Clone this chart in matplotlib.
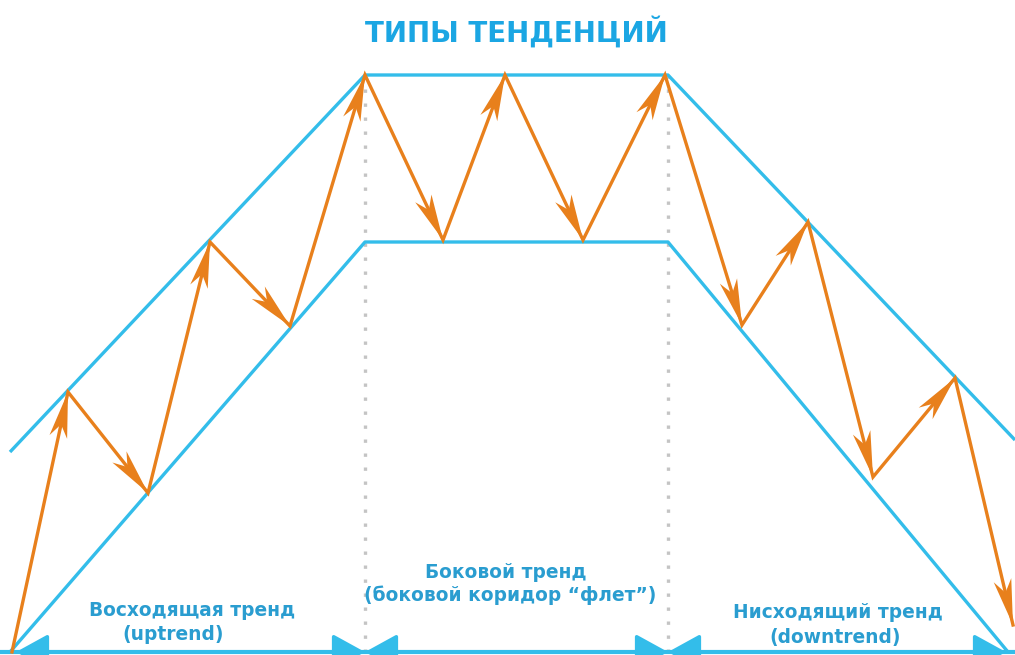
import numpy as np
import matplotlib
matplotlib.use("Agg")
import matplotlib.pyplot as plt

# ---- data (pixel-space coordinates of the schematic) ----
title = "ТИПЫ ТЕНДЕНЦИЙ"

zigzag_x = [12, 68, 148, 210, 290, 365, 443, 505, 583, 665, 742, 808, 873, 955, 1013]
zigzag_y = [652, 392, 493, 242, 326, 75, 240, 75, 240, 75, 325, 222, 477, 378, 625]

upper_x = [10, 365, 668, 1015]
upper_y = [452, 75, 75, 440]
lower_x = [10, 365, 668, 1008]
lower_y = [652, 242, 242, 652]

divider_x = [365, 668]
divider_top = 75
base_y = 652
base_x = [16, 365, 668, 1006]

label_lines = ["Восходящая тренд", "(uptrend)",
               "Боковой тренд", "(боковой коридор “флет”)",
               "Нисходящий тренд", "(downtrend)"]
label_x = [192, 173, 506, 510, 838, 835]
label_y = [611, 635, 572, 595, 613, 637]

W, H = 1015, 655
CYAN = "#33BDEA"
ORANGE = "#E8801C"
TEXT = "#2A9DD0"
TITLE = "#1BA6E3"

fig = plt.figure(figsize=(W / 100, H / 100), dpi=100)
ax = fig.add_axes([0, 0, 1, 1])
ax.set_xlim(0, W)
ax.set_ylim(H, 0)
ax.axis("off")

# dotted dividers
for dx in divider_x:
    ax.plot([dx, dx], [divider_top, base_y], color="#C4C4C4", lw=2.4,
            linestyle=(0, (1, 3.2)), zorder=1)

# channel lines
ax.plot(upper_x, upper_y, color=CYAN, lw=2.4, zorder=2, solid_capstyle="butt")
ax.plot(lower_x, lower_y, color=CYAN, lw=2.4, zorder=2, solid_capstyle="butt")

# base line with arrows
ax.plot([0, W], [base_y, base_y], color=CYAN, lw=3, zorder=2)
for a, b in zip(base_x[:-1], base_x[1:]):
    ax.annotate("", xy=(b, base_y), xytext=(a, base_y),
                arrowprops=dict(arrowstyle="<|-|>,head_length=1.0,head_width=0.55",
                                color=CYAN, lw=2.5, mutation_scale=20,
                                shrinkA=0, shrinkB=0), zorder=3)

# orange zigzag with notched arrow heads
ax.plot(zigzag_x, zigzag_y, color=ORANGE, lw=2.4, zorder=4,
        solid_joinstyle="miter")
L, hw, notch = 46.0, 9.0, 0.72
for (x0, y0, x1, y1) in zip(zigzag_x[:-1], zigzag_y[:-1], zigzag_x[1:], zigzag_y[1:]):
    d = np.array([x1 - x0, y1 - y0], float)
    d /= np.hypot(*d)
    n = np.array([-d[1], d[0]])
    tip = np.array([x1, y1], float)
    base = tip - L * d
    p1 = base + hw * n
    p2 = base - hw * n
    pn = tip - notch * L * d
    poly = np.array([tip, p1, pn, p2])
    ax.fill(poly[:, 0], poly[:, 1], color=ORANGE, zorder=5, lw=0)

# texts
ax.text(516, 32, title, ha="center", va="center", fontsize=20,
        fontweight="bold", color=TITLE, family="DejaVu Sans")
for t, x, y in zip(label_lines, label_x, label_y):
    ax.text(x, y, t, ha="center", va="center", fontsize=13.4,
            fontweight="bold", color=TEXT, family="DejaVu Sans", zorder=6)

fig.savefig("out.png", dpi=100)
